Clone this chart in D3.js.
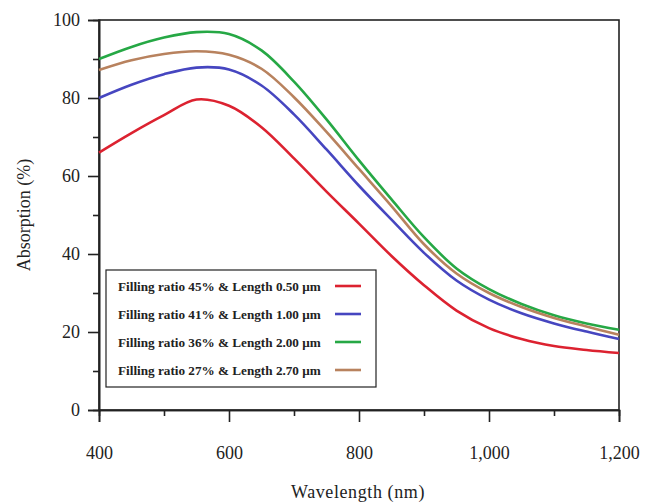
<!DOCTYPE html>
<html><head><meta charset="utf-8">
<script src="https://cdn.jsdelivr.net/npm/d3@7"></script>
<style>body{margin:0;background:#fff}svg{display:block}</style>
</head><body>
<svg id="c" width="656" height="504"></svg>
<script>
const wavelengths = [400,450,500,550,600,650,700,750,800,850,900,950,1000,1050,1100,1150,1200];
const red   = [66,71,75.6,79.6,78,72.5,64.5,56,47.8,39.5,32,25.5,21,18.2,16.4,15.4,14.6];
const blue  = [80,83.4,86.1,87.8,87.3,83.2,75.8,66.8,57.5,48.8,40.3,33.2,28.3,24.8,22.2,20.1,18.2];
const green = [90,93.1,95.5,96.9,96.4,92.2,84.2,74.5,64,54,44.3,36.3,31,27.2,24.3,22.2,20.6];
const brown = [87.2,89.7,91.3,92,91.1,87.5,80.2,71.3,61.8,52.3,42.5,35,30,26.4,23.6,21.4,19.3];
const seriesNames = ["Filling ratio 45% & Length 0.50 \u03bcm","Filling ratio 41% & Length 1.00 \u03bcm","Filling ratio 36% & Length 2.00 \u03bcm","Filling ratio 27% & Length 2.70 \u03bcm"];
const seriesColors = ["#dc2230","#4646c0","#26a845","#b8825e"];
const xTicks = [400,600,800,1000,1200];
const xMinor = [500,700,900,1100];
const yTicks = [0,20,40,60,80,100];
const yMinor = [10,30,50,70,90];

const series = [red, blue, green, brown];
const svg = d3.select("#c");
const L=99,R=619,T=20,B=410;
const x = d3.scaleLinear().domain([400,1200]).range([L,R]);
const y = d3.scaleLinear().domain([0,100]).range([B,T]);
const serif = "'Liberation Serif','Times New Roman',serif";

// frame
svg.append("rect").attr("x",L).attr("y",T).attr("width",R-L).attr("height",B-T)
  .attr("fill","none").attr("stroke","#222").attr("stroke-width",1.6);

// axes
const fmt = d3.format(",");
svg.append("g").attr("transform",`translate(0,${B})`)
  .call(d3.axisBottom(x).tickValues(xTicks).tickSize(12).tickPadding(24).tickFormat(fmt));
svg.append("g").attr("transform",`translate(0,${B})`)
  .call(d3.axisBottom(x).tickValues(xMinor).tickSize(6).tickFormat(""));
svg.append("g").attr("transform",`translate(${L},0)`)
  .call(d3.axisLeft(y).tickValues(yTicks).tickSize(11).tickPadding(8));
svg.append("g").attr("transform",`translate(${L},0)`)
  .call(d3.axisLeft(y).tickValues(yMinor).tickSize(6).tickFormat(""));
svg.selectAll(".domain").attr("stroke","#222").attr("stroke-width",1.6);
svg.selectAll(".tick line").attr("stroke","#222").attr("stroke-width",1.6);
svg.selectAll(".tick text").attr("font-family",serif).attr("font-size",18).attr("fill","#222");

// curves
const line = d3.line().x((d,i)=>x(wavelengths[i])).y(d=>y(d)).curve(d3.curveCatmullRom.alpha(0.5));
series.forEach((s,k)=>{
  svg.append("path").datum(s).attr("d",line).attr("fill","none")
    .attr("stroke",seriesColors[k]).attr("stroke-width",2.6);
});

// axis titles
svg.append("text").attr("x",358).attr("y",498).attr("text-anchor","middle")
  .attr("font-family",serif).attr("font-size",18).attr("letter-spacing",0.6).attr("fill","#222")
  .text("Wavelength (nm)");
svg.append("text").attr("transform","translate(30,215) rotate(-90)").attr("text-anchor","middle")
  .attr("font-family",serif).attr("font-size",18).attr("fill","#222")
  .text("Absorption (%)");

// legend
const lg = svg.append("g");
lg.append("rect").attr("x",106).attr("y",270).attr("width",270).attr("height",117)
  .attr("fill","#fff").attr("stroke","#222").attr("stroke-width",1.2);
seriesNames.forEach((n,k)=>{
  const yy = 286 + k*28;
  lg.append("text").attr("x",118).attr("y",yy+4.5).attr("font-family",serif)
    .attr("font-weight","bold").attr("font-size",13.2).attr("fill","#222").text(n);
  lg.append("line").attr("x1",335).attr("x2",361).attr("y1",yy).attr("y2",yy)
    .attr("stroke",seriesColors[k]).attr("stroke-width",2.6);
});
</script>
</body></html>
